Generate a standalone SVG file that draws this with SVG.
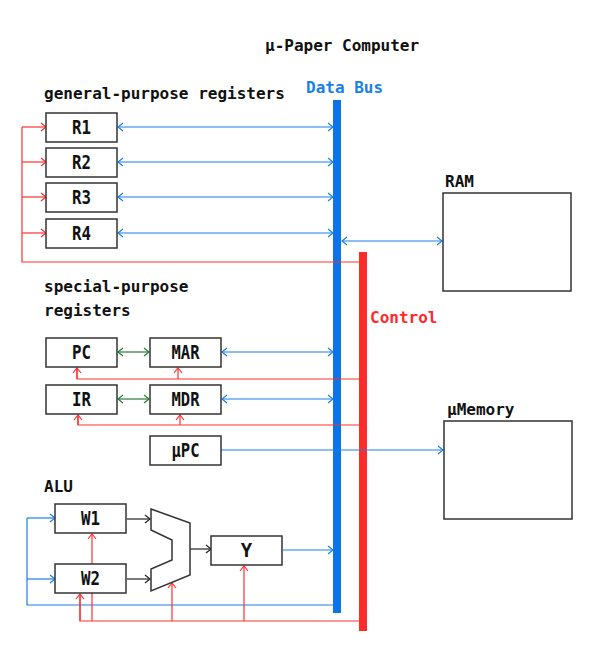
<svg xmlns="http://www.w3.org/2000/svg" width="590" height="645" viewBox="0 0 590 645">
<style>
text{font-family:"DejaVu Sans Mono","Liberation Mono",monospace;font-weight:bold;fill:#111}
.lbl{font-size:16px}
.box rect{fill:#fff;stroke:#333;stroke-width:1.5}
.box text{font-size:19px;text-anchor:middle}
.b{stroke:#1a7fe8;stroke-width:1.2;fill:none}
.r{stroke:#ff3030;stroke-width:1.2;fill:none}
.g{stroke:#2a7a3a;stroke-width:1.2;fill:none}
.k{stroke:#222;stroke-width:1.2;fill:none}
</style>
<defs>
<marker id="ab" markerUnits="userSpaceOnUse" markerWidth="10" markerHeight="10" viewBox="-6 -5 10 10" refX="0" refY="0" orient="auto-start-reverse"><path d="M-5,-4 L0,0 L-5,4" fill="none" stroke="#1a7fe8" stroke-width="1.2"/></marker>
<marker id="ar" markerUnits="userSpaceOnUse" markerWidth="10" markerHeight="10" viewBox="-6 -5 10 10" refX="0" refY="0" orient="auto-start-reverse"><path d="M-5,-4 L0,0 L-5,4" fill="none" stroke="#ff3030" stroke-width="1.2"/></marker>
<marker id="ag" markerUnits="userSpaceOnUse" markerWidth="10" markerHeight="10" viewBox="-6 -5 10 10" refX="0" refY="0" orient="auto-start-reverse"><path d="M-5,-4 L0,0 L-5,4" fill="none" stroke="#2a7a3a" stroke-width="1.2"/></marker>
<marker id="ak" markerUnits="userSpaceOnUse" markerWidth="10" markerHeight="10" viewBox="-6 -5 10 10" refX="0" refY="0" orient="auto-start-reverse"><path d="M-5,-4 L0,0 L-5,4" fill="none" stroke="#222" stroke-width="1.2"/></marker>
</defs>

<text class="lbl" x="265" y="51">μ-Paper Computer</text>
<text class="lbl" x="44" y="99">general-purpose registers</text>
<text class="lbl" x="44" y="292">special-purpose</text>
<text class="lbl" x="44" y="316">registers</text>
<text class="lbl" x="44" y="492">ALU</text>

<g id="databus">
<rect x="333" y="100" width="8" height="513" fill="#0a74e8"/>
<text class="lbl" x="306" y="93" style="fill:#1a7fe8">Data Bus</text>
</g>
<g id="control">
<rect x="359" y="252" width="8" height="379" fill="#ff2a2a"/>
<text class="lbl" x="370" y="323" style="fill:#ff2a2a">Control</text>
</g>

<g id="connectors">
<line class="b" x1="118" y1="127" x2="333" y2="127" marker-start="url(#ab)" marker-end="url(#ab)"/>
<line class="b" x1="118" y1="162" x2="333" y2="162" marker-start="url(#ab)" marker-end="url(#ab)"/>
<line class="b" x1="118" y1="197" x2="333" y2="197" marker-start="url(#ab)" marker-end="url(#ab)"/>
<line class="b" x1="118" y1="233" x2="333" y2="233" marker-start="url(#ab)" marker-end="url(#ab)"/>
<line class="b" x1="342" y1="241" x2="442" y2="241" marker-start="url(#ab)" marker-end="url(#ab)"/>
<path class="r" d="M359,262 H22 V127"/>
<line class="r" x1="22" y1="127" x2="46" y2="127" marker-end="url(#ar)"/>
<line class="r" x1="22" y1="162" x2="46" y2="162" marker-end="url(#ar)"/>
<line class="r" x1="22" y1="197" x2="46" y2="197" marker-end="url(#ar)"/>
<line class="r" x1="22" y1="233" x2="46" y2="233" marker-end="url(#ar)"/>
<line class="g" x1="118" y1="352" x2="149" y2="352" marker-start="url(#ag)" marker-end="url(#ag)"/>
<line class="g" x1="118" y1="399" x2="149" y2="399" marker-start="url(#ag)" marker-end="url(#ag)"/>
<line class="b" x1="222" y1="352" x2="333" y2="352" marker-start="url(#ab)" marker-end="url(#ab)"/>
<line class="b" x1="222" y1="399" x2="333" y2="399" marker-start="url(#ab)" marker-end="url(#ab)"/>
<path class="r" d="M359,379 H77 V368"/>
<line class="r" x1="77" y1="379" x2="77" y2="368" marker-end="url(#ar)"/>
<line class="r" x1="178" y1="379" x2="178" y2="368" marker-end="url(#ar)"/>
<path class="r" d="M359,425 H78 V415"/>
<line class="r" x1="78" y1="425" x2="78" y2="415" marker-end="url(#ar)"/>
<line class="r" x1="180" y1="425" x2="180" y2="415" marker-end="url(#ar)"/>
<line class="b" x1="221" y1="450" x2="443" y2="450" marker-end="url(#ab)"/>
<path class="b" d="M333,605 H27 V518"/>
<line class="b" x1="27" y1="518" x2="55" y2="518" marker-end="url(#ab)"/>
<line class="b" x1="27" y1="579" x2="55" y2="579" marker-end="url(#ab)"/>
<line class="k" x1="127" y1="519" x2="150" y2="519" marker-end="url(#ak)"/>
<line class="k" x1="127" y1="579" x2="150" y2="579" marker-end="url(#ak)"/>
<line class="k" x1="190" y1="549" x2="211" y2="549" marker-end="url(#ak)"/>
<line class="b" x1="283" y1="550" x2="333" y2="550" marker-end="url(#ab)"/>
<path class="r" d="M359,621 H80 V594"/>
<line class="r" x1="80" y1="621" x2="80" y2="594" marker-end="url(#ar)"/>
<line class="r" x1="92" y1="621" x2="92" y2="534" marker-end="url(#ar)"/>
<line class="r" x1="172" y1="621" x2="172" y2="583" marker-end="url(#ar)"/>
<line class="r" x1="244" y1="621" x2="244" y2="566" marker-end="url(#ar)"/>
</g>

<g id="R1" class="box"><rect x="46" y="113" width="71" height="29"/><text x="81.5" y="134" textLength="19" lengthAdjust="spacingAndGlyphs">R1</text></g>
<g id="R2" class="box"><rect x="46" y="148" width="71" height="29"/><text x="81.5" y="169" textLength="19" lengthAdjust="spacingAndGlyphs">R2</text></g>
<g id="R3" class="box"><rect x="46" y="183" width="71" height="29"/><text x="81.5" y="204" textLength="19" lengthAdjust="spacingAndGlyphs">R3</text></g>
<g id="R4" class="box"><rect x="46" y="219" width="71" height="29"/><text x="81.5" y="240" textLength="19" lengthAdjust="spacingAndGlyphs">R4</text></g>
<g id="PC" class="box"><rect x="46" y="338" width="71" height="29"/><text x="81.5" y="359" textLength="19" lengthAdjust="spacingAndGlyphs">PC</text></g>
<g id="MAR" class="box"><rect x="150" y="338" width="71" height="29"/><text x="185.5" y="359" textLength="28" lengthAdjust="spacingAndGlyphs">MAR</text></g>
<g id="IR" class="box"><rect x="46" y="385" width="71" height="29"/><text x="81.5" y="406" textLength="19" lengthAdjust="spacingAndGlyphs">IR</text></g>
<g id="MDR" class="box"><rect x="150" y="385" width="71" height="29"/><text x="185.5" y="406" textLength="28" lengthAdjust="spacingAndGlyphs">MDR</text></g>
<g id="uPC" class="box"><rect x="150" y="436" width="71" height="29"/><text x="185.5" y="457" textLength="28" lengthAdjust="spacingAndGlyphs">μPC</text></g>
<g id="W1" class="box"><rect x="55" y="504" width="71" height="29"/><text x="90.5" y="525" textLength="19" lengthAdjust="spacingAndGlyphs">W1</text></g>
<g id="W2" class="box"><rect x="55" y="564" width="71" height="29"/><text x="90.5" y="585" textLength="19" lengthAdjust="spacingAndGlyphs">W2</text></g>
<g id="mux"><path d="M151,509 L190,523 L190,575 L151,591 L151,569 L172,560 L172,540 L151,530 Z" fill="#fff" stroke="#333" stroke-width="1.5"/></g>
<g id="Y" class="box"><rect x="211" y="536" width="71" height="29"/><text x="246.5" y="557">Y</text></g>
<g id="RAM" class="box"><rect x="443" y="193" width="128" height="98"/><text x="445" y="187" style="text-anchor:start;font-size:16px">RAM</text></g>
<g id="uMemory" class="box"><rect x="444" y="421" width="128" height="98"/><text x="447" y="415" style="text-anchor:start;font-size:16px">μMemory</text></g>
</svg>
